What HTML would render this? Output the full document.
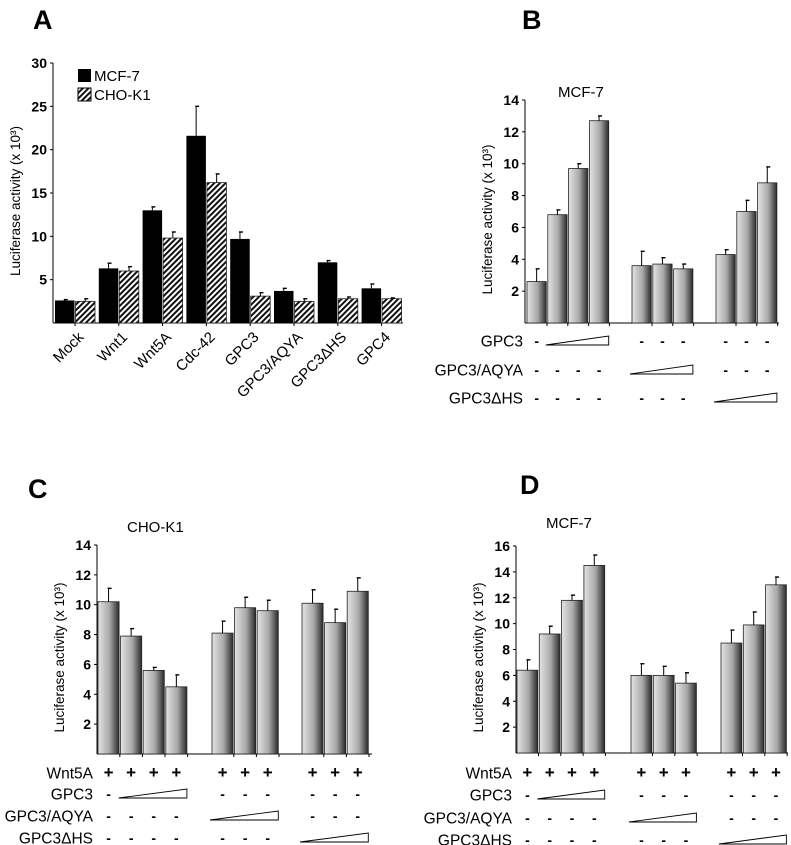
<!DOCTYPE html>
<html><head><meta charset="utf-8"><style>
body{margin:0;background:#fff}
svg{display:block;font-family:"Liberation Sans",Arial,sans-serif}
</style></head><body>
<svg id="fig" width="791" height="845" viewBox="0 0 791 845">
<defs>
<linearGradient id="bg" x1="0" x2="1" y1="0" y2="0">
<stop offset="0" stop-color="#e4e4e4"/><stop offset="0.55" stop-color="#a8a8a8"/><stop offset="1" stop-color="#2a2a2a"/>
</linearGradient>
<pattern id="hatch" width="4" height="4" patternUnits="userSpaceOnUse" patternTransform="rotate(45)">
<rect width="4" height="4" fill="#fff"/><rect width="2" height="4" fill="#111"/>
</pattern>
</defs>
</svg>
<script>
// Panel A data
const aCats=["Mock","Wnt1","Wnt5A","Cdc-42","GPC3","GPC3/AQYA","GPC3\u0394HS","GPC4"];
const aMcf=[2.6,6.3,13.0,21.6,9.7,3.7,7.0,4.0];
const aMcfErr=[0.1,0.6,0.4,3.4,0.8,0.3,0.2,0.5];
const aCho=[2.5,6.0,9.8,16.2,3.1,2.5,2.8,2.8];
const aChoErr=[0.3,0.5,0.7,1.0,0.4,0.3,0.2,0.1];
const aTicks=[5,10,15,20,25,30];
// Panel B data
const bVals=[2.6,6.8,9.7,12.7,3.6,3.7,3.4,4.3,7.0,8.8];
const bErr=[0.8,0.3,0.3,0.3,0.9,0.4,0.3,0.3,0.7,1.0];
const bTicks=[2,4,6,8,10,12,14];
// Panel C data
const cVals=[10.2,7.9,5.6,4.5,8.1,9.8,9.6,10.1,8.8,10.9];
const cErr=[0.9,0.5,0.2,0.8,0.8,0.7,0.7,0.9,0.9,0.9];
const cTicks=[2,4,6,8,10,12,14];
// Panel D data
const dVals=[6.4,9.2,11.8,14.5,6.0,6.0,5.4,8.5,9.9,13.0];
const dErr=[0.8,0.6,0.4,0.8,0.9,0.7,0.8,1.0,1.0,0.6];
const dTicks=[2,4,6,8,10,12,14,16];
// condition rows
const rowWnt=["+","+","+","+","+","+","+","+","+","+"];
const rowGpc3=["-","w","w","w","-","-","-","-","-","-"];
const rowAqya=["-","-","-","-","w","w","w","-","-","-"];
const rowDhs=["-","-","-","-","-","-","-","w","w","w"];

const NS="http://www.w3.org/2000/svg";
const svg=document.getElementById('fig');
function mk(tag,attrs,parent,text){const e=document.createElementNS(NS,tag);for(const k in attrs)e.setAttribute(k,attrs[k]);if(text!==undefined)e.textContent=text;(parent||svg).appendChild(e);return e;}

function axisY(ax,ticks,g,title){
  mk('line',{x1:ax.x0,y1:ax.base,x2:ax.x0,y2:ax.y(ax.max),stroke:'#000','stroke-width':1},g);
  ticks.forEach(t=>{
    const y=ax.y(t);
    mk('line',{x1:ax.x0-3,y1:y,x2:ax.x0,y2:y,stroke:'#000'},g);
    const tl=mk('text',{x:ax.x0-6,y:y+5,'text-anchor':'end','font-size':14,'font-weight':'bold'},g,String(t));
    
    
  });
  const yt=mk('text',{x:0,y:0,transform:`translate(${ax.x0-33},${(ax.base+ax.y(ax.max))/2+8}) rotate(-90)`,'text-anchor':'middle','font-size':13.5},g,title);
  
  
}
function errBar(x,yTop,yErr,g){
  mk('line',{x1:x,y1:yTop,x2:x,y2:yErr,stroke:'#000','stroke-width':1},g);
  mk('line',{x1:x-1,y1:yErr,x2:x+3,y2:yErr,stroke:'#000','stroke-width':1.4},g);
}

// Panel A
(function(){
  const g=mk('g',{});
  
  
  const ax={x0:53,base:323,max:30,end:403};ax.y=v=>ax.base-v*(260/30);
  const pl=mk('text',{x:33,y:29,'font-size':27,'font-weight':'bold'},g,'A');
  
  axisY(ax,aTicks,g,'Luciferase activity (x 10\u00b3)');
  mk('line',{x1:ax.x0,y1:ax.base,x2:ax.end,y2:ax.base,stroke:'#000'},g);
  const pitch=43.8,w=19.5;
  aCats.forEach((c,i)=>{
    const x=55+i*pitch;
    const b1=mk('rect',{x:x,y:ax.y(aMcf[i]),width:w,height:ax.base-ax.y(aMcf[i]),fill:'#000'},g);
    
    errBar(x+w/2,ax.y(aMcf[i]),ax.y(aMcf[i]+aMcfErr[i]),g);
    const x2=x+w+1;
    const b2=mk('rect',{x:x2,y:ax.y(aCho[i]),width:w,height:ax.base-ax.y(aCho[i]),fill:'url(#hatch)',stroke:'#222','stroke-width':0.8},g);
    
    errBar(x2+w/2,ax.y(aCho[i]),ax.y(aCho[i]+aChoErr[i]),g);
    mk('line',{x1:x+w+0.5,y1:ax.base,x2:x+w+0.5,y2:ax.base+3,stroke:'#000'},g);
    const cx=x+w+10;
    const t=mk('text',{x:0,y:0,transform:`translate(${cx},${ax.base+15}) rotate(-45)`,'text-anchor':'end','font-size':15},g,c);
    
  });
  const l1=mk('rect',{x:78,y:69,width:13,height:13,fill:'#000'},g);
  
  const lt1=mk('text',{x:94,y:81,'font-size':15},g,'MCF-7');
  
  const l2=mk('rect',{x:78,y:88,width:13,height:13,fill:'url(#hatch)',stroke:'#000'},g);
  
  const lt2=mk('text',{x:94,y:100,'font-size':15},g,'CHO-K1');
  
})();

function gradPanel(cfg){
  const g=mk('g',{});
  
  
  const ax={x0:cfg.x0,base:cfg.base,max:cfg.max,end:cfg.end};
  ax.y=v=>ax.base-v*((cfg.base-cfg.top)/cfg.max);
  const pl=mk('text',{x:cfg.lx,y:cfg.ly,'font-size':27,'font-weight':'bold'},g,cfg.letter);
  
  const tt=mk('text',{x:cfg.tx,y:cfg.ty,'font-size':15},g,cfg.title);
  
  axisY(ax,cfg.ticks,g,'Luciferase activity (x 10\u00b3)');
  mk('line',{x1:ax.x0,y1:ax.base,x2:ax.end,y2:ax.base,stroke:'#000'},g);
  const centers=[];
  cfg.vals.forEach((v,i)=>{
    const gi=i<4?0:(i<7?1:2), k=i<4?i:(i<7?i-4:i-7);
    const x=cfg.starts[gi]+k*cfg.pitch, w=cfg.pitch-1.5;
    const b=mk('rect',{x:x,y:ax.y(v),width:w,height:ax.base-ax.y(v),fill:'url(#bg)',stroke:'#222','stroke-width':0.8},g);
    
    errBar(x+w/2,ax.y(v),ax.y(v+cfg.err[i]),g);
    mk('line',{x1:x+w+0.7,y1:ax.base,x2:x+w+0.7,y2:ax.base+3,stroke:'#000'},g);
    centers.push({c:x+w/2,l:x,r:x+w});
  });
  cfg.rows.forEach((row,ri)=>{
    const y=cfg.rowY[ri];
    const rl=mk('text',{x:cfg.labX,y:y+5.5,'text-anchor':'end','font-size':15.5},g,cfg.rowNames[ri]);
    
    let ws=-1;
    row.forEach((m,i)=>{
      if(m==='w'){ if(ws<0) ws=i;
        if(i===row.length-1||row[i+1]!=='w'){
          const x1=centers[ws].l-2,x2=centers[i].r;
          const wp=mk('polygon',{points:`${x1},${y+4} ${x2},${y-5} ${x2},${y+4}`,fill:'#fff',stroke:'#000','stroke-width':0.9},g);
          
          ws=-1;}
      } else {
        const t=mk('text',{x:centers[i].c,y:y+5,'text-anchor':'middle','font-size':m==='+'?17:14,'font-weight':'bold'},g,m);
        
      }
    });
  });
}
gradPanel({name:'panel-b',letter:'B',lx:522,ly:29,title:'MCF-7',tx:558,ty:97,x0:525,top:100,base:323,max:14,end:779,
  ticks:bTicks,vals:bVals,err:bErr,starts:[527,632,716],pitch:20.8,
  rows:[rowGpc3,rowAqya,rowDhs],rowNames:['GPC3','GPC3/AQYA','GPC3\u0394HS'],rowY:[341,370,398],labX:523});
gradPanel({name:'panel-c',letter:'C',lx:28,ly:498,title:'CHO-K1',tx:127,ty:532,x0:97,top:545,base:754,max:14,end:372,
  ticks:cTicks,vals:cVals,err:cErr,starts:[98,212,302],pitch:22.6,
  rows:[rowWnt,rowGpc3,rowAqya,rowDhs],rowNames:['Wnt5A','GPC3','GPC3/AQYA','GPC3\u0394HS'],rowY:[773,794,816,838],labX:93});
gradPanel({name:'panel-d',letter:'D',lx:520,ly:494,title:'MCF-7',tx:546,ty:528,x0:516,top:546,base:753,max:16,end:788,
  ticks:dTicks,vals:dVals,err:dErr,starts:[517,631,721],pitch:22.3,
  rows:[rowWnt,rowGpc3,rowAqya,rowDhs],rowNames:['Wnt5A','GPC3','GPC3/AQYA','GPC3\u0394HS'],rowY:[773,795,818,840],labX:512});
</script>
</body></html>
